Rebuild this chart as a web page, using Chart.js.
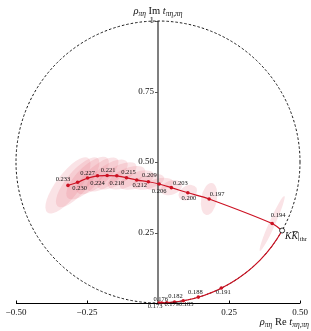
<!DOCTYPE html>
<html>
<head>
<meta charset="utf-8">
<script src="https://cdn.jsdelivr.net/npm/chart.js@4/dist/chart.umd.min.js"></script>
<style>
html, body { margin: 0; padding: 0; background: #fff; }
#wrap { width: 311px; height: 331px; }
</style>
</head>
<body>
<div id="wrap"><canvas id="chart"></canvas></div>
<script>
// elastic region: points sitting on the unitarity circle
const elasE  = ['0.173', '0.176', '0.179', '0.182', '0.185', '0.188', '0.191'];
const elasRe = [0.004, 0.013, 0.031, 0.058, 0.089, 0.142, 0.223];
const elasIm = [0.000, 0.000, 0.001, 0.003, 0.008, 0.021, 0.053];

// KKbar threshold
const kkRe = 0.437;
const kkIm = 0.257;

// inelastic region
const inelE  = ['0.194', '0.197', '0.200', '0.203', '0.206', '0.209', '0.212',
                '0.215', '0.218', '0.221', '0.224', '0.227', '0.230', '0.233'];
const inelRe = [0.402, 0.180, 0.105, 0.047, 0.004, -0.034, -0.075,
                -0.111, -0.145, -0.179, -0.213, -0.248, -0.283, -0.317];
const inelIm = [0.282, 0.369, 0.391, 0.409, 0.422, 0.430, 0.436,
                0.444, 0.451, 0.452, 0.451, 0.443, 0.428, 0.417];

// error ellipses (semi axes and tilt in degrees)
const errMajor = [0.106, 0.057, 0.035, 0.039, 0.050, 0.057, 0.064,
                  0.071, 0.078, 0.085, 0.092, 0.099, 0.110, 0.120];
const errMinor = [0.011, 0.028, 0.025, 0.025, 0.021, 0.025, 0.028,
                  0.032, 0.032, 0.035, 0.035, 0.039, 0.039, 0.042];
const errAngle = [66, 80, 30, 20, 10, 15, 20, 25, 30, 35, 40, 45, 50, 53];

const xTicks = [-0.5, -0.25, 0.25, 0.5];
const xTickLabels = ['\u22120.50', '\u22120.25', '0.25', '0.50'];
const yTicks = [0.25, 0.5, 0.75, 1];
const yTickLabels = ['0.25', '0.50', '0.75', '1'];

// where each energy label sits relative to its point (pixels)
const labelOffset = {
  '0.173': [-4, 3], '0.176': [-1, -4], '0.179': [5, 2], '0.182': [1, -6],
  '0.185': [3, 4], '0.188': [-3, -5], '0.191': [2, 4],
  '0.194': [6, -8], '0.197': [8, -5], '0.200': [1, 6], '0.203': [9, -4],
  '0.206': [0, 7], '0.209': [1, -6], '0.212': [3, 5], '0.215': [2, -5],
  '0.218': [0, 7], '0.221': [1, -5], '0.224': [0, 7], '0.227': [0, -5],
  '0.230': [2, 6], '0.233': [-5, -6]
};

const RED = '#cc1122';
const SERIF = '"Liberation Serif", "DejaVu Serif", serif';

// draws a run of text pieces (italic / subscript etc.)
function drawParts(ctx, parts, x, y, align) {
  let total = 0;
  parts.forEach(p => { ctx.font = p.f; p.w = ctx.measureText(p.t).width; total += p.w; });
  let cur = align === 'right' ? x - total : (align === 'center' ? x - total / 2 : x);
  parts.forEach(p => {
    ctx.font = p.f;
    ctx.fillText(p.t, cur, y + (p.dy || 0));
    if (p.bar) {
      ctx.beginPath();
      ctx.lineWidth = 0.7;
      ctx.moveTo(cur + 1, y - 7);
      ctx.lineTo(cur + p.w, y - 7);
      ctx.stroke();
    }
    cur += p.w;
  });
}

const argandPlugin = {
  id: 'argand',
  beforeDatasetsDraw(chart) {
    const { ctx, scales: { x, y } } = chart;
    const cx = x.getPixelForValue(0), cy = y.getPixelForValue(0.5);
    const rx = x.getPixelForValue(0.5) - cx, ry = y.getPixelForValue(0) - cy;
    const ux = x.getPixelForValue(1) - x.getPixelForValue(0);
    const uy = y.getPixelForValue(0) - y.getPixelForValue(1);
    ctx.save();

    // error ellipses
    ctx.fillStyle = 'rgba(230, 115, 128, 0.2)';
    inelRe.forEach((re, i) => {
      ctx.beginPath();
      ctx.ellipse(x.getPixelForValue(re), y.getPixelForValue(inelIm[i]),
        errMajor[i] * ux, errMinor[i] * uy, -errAngle[i] * Math.PI / 180, 0, Math.PI * 2);
      ctx.fill();
    });

    // axes
    const y0 = y.getPixelForValue(0), x0 = x.getPixelForValue(0);
    ctx.strokeStyle = '#000';
    ctx.lineWidth = 1;
    ctx.beginPath();
    ctx.moveTo(x.getPixelForValue(-0.5), y0 + 0.5);
    ctx.lineTo(x.getPixelForValue(0.5), y0 + 0.5);
    ctx.stroke();
    xTicks.forEach(v => {
      const px = Math.round(x.getPixelForValue(v)) + 0.5;
      ctx.beginPath();
      ctx.moveTo(px, y0 + 0.5);
      ctx.lineTo(px, y0 - 2.5);
      ctx.stroke();
    });
    ctx.strokeStyle = '#555';
    ctx.lineWidth = 1.5;
    ctx.beginPath();
    ctx.moveTo(x0, y0);
    ctx.lineTo(x0, y.getPixelForValue(1));
    ctx.stroke();
    ctx.lineWidth = 1;
    yTicks.forEach(v => {
      const py = Math.round(y.getPixelForValue(v)) + 0.5;
      ctx.beginPath();
      ctx.moveTo(x0, py);
      ctx.lineTo(x0 - 3, py);
      ctx.stroke();
    });

    // tick labels
    ctx.fillStyle = '#111';
    ctx.font = '9px ' + SERIF;
    ctx.textBaseline = 'middle';
    ctx.textAlign = 'center';
    xTicks.forEach((v, i) => ctx.fillText(xTickLabels[i], x.getPixelForValue(v), y0 + 10));
    ctx.textAlign = 'right';
    yTicks.forEach((v, i) => ctx.fillText(yTickLabels[i], x0 - 4, y.getPixelForValue(v)));

    // unitarity circle
    ctx.strokeStyle = '#000';
    ctx.lineWidth = 0.9;
    ctx.setLineDash([2.5, 2]);
    ctx.beginPath();
    ctx.ellipse(cx, cy, rx, ry, 0, 0, Math.PI * 2);
    ctx.stroke();
    ctx.setLineDash([]);

    // elastic part of the curve follows the circle up to the KK threshold
    const kx = x.getPixelForValue(kkRe), ky = y.getPixelForValue(kkIm);
    const t0 = Math.atan2((ky - cy) / ry, (kx - cx) / rx);
    ctx.strokeStyle = RED;
    ctx.lineWidth = 1.2;
    ctx.beginPath();
    ctx.ellipse(cx, cy, rx, ry, 0, t0, Math.PI / 2);
    ctx.stroke();
    ctx.restore();
  },
  afterDatasetsDraw(chart) {
    const { ctx, scales: { x, y } } = chart;
    ctx.save();
    ctx.fillStyle = '#111';
    ctx.strokeStyle = '#111';
    ctx.textBaseline = 'middle';
    ctx.textAlign = 'center';
    ctx.font = '6.5px ' + SERIF;
    const put = (lab, re, im) => {
      const o = labelOffset[lab];
      ctx.fillText(lab, x.getPixelForValue(re) + o[0], y.getPixelForValue(im) + o[1]);
    };
    elasE.forEach((lab, i) => put(lab, elasRe[i], elasIm[i]));
    inelE.forEach((lab, i) => put(lab, inelRe[i], inelIm[i]));

    ctx.textAlign = 'left';
    ctx.textBaseline = 'alphabetic';
    const it = 'italic 10.5px ' + SERIF, rm = '10.5px ' + SERIF;
    const sub = 'italic 7.5px ' + SERIF;
    // KKbar threshold label
    drawParts(ctx, [
      { t: 'K', f: 'italic 9.5px ' + SERIF },
      { t: 'K', f: 'italic 9.5px ' + SERIF, bar: true },
      { t: '|', f: '9.5px ' + SERIF },
      { t: 'thr', f: '6.5px ' + SERIF, dy: 2 }
    ], x.getPixelForValue(kkRe) + 3, y.getPixelForValue(kkIm) + 8, 'left');

    // axis titles
    const title = [
      { t: '\u03c1', f: it }, { t: '\u03c0\u03b7', f: sub, dy: 2 },
      { t: ' Im ', f: rm }, { t: 't', f: it }, { t: '\u03c0\u03b7,\u03c0\u03b7', f: sub, dy: 2 }
    ];
    drawParts(ctx, title, x.getPixelForValue(0), 14, 'center');
    const titleX = [
      { t: '\u03c1', f: it }, { t: '\u03c0\u03b7', f: sub, dy: 2 },
      { t: ' Re ', f: rm }, { t: 't', f: it }, { t: '\u03c0\u03b7,\u03c0\u03b7', f: sub, dy: 2 }
    ];
    drawParts(ctx, titleX, 309, 325, 'right');
    ctx.restore();
  }
};

const elasPoints = elasRe.map((re, i) => ({ x: re, y: elasIm[i] }));
const inelPoints = [{ x: kkRe, y: kkIm }].concat(inelRe.map((re, i) => ({ x: re, y: inelIm[i] })));

new Chart(document.getElementById('chart'), {
  type: 'scatter',
  data: {
    datasets: [
      {
        label: 'KK threshold',
        data: [{ x: kkRe, y: kkIm }],
        pointRadius: 2.5,
        pointBackgroundColor: '#fff',
        pointBorderColor: '#000',
        pointBorderWidth: 0.8,
        order: 0
      },
      {
        label: 'inelastic',
        data: inelPoints,
        showLine: true,
        borderColor: RED,
        borderWidth: 1.2,
        tension: 0.3,
        pointRadius: ctx => ctx.dataIndex === 0 ? 0 : 1.8,
        pointBackgroundColor: RED,
        pointBorderWidth: 0,
        order: 1
      },
      {
        label: 'elastic',
        data: elasPoints,
        pointRadius: 1.8,
        pointBackgroundColor: RED,
        pointBorderWidth: 0,
        order: 1
      }
    ]
  },
  options: {
    responsive: true,
    maintainAspectRatio: false,
    animation: false,
    layout: { padding: { left: 16, right: 11, top: 21, bottom: 28 } },
    plugins: { legend: { display: false }, tooltip: { enabled: false } },
    scales: {
      x: { type: 'linear', min: -0.5, max: 0.5, display: false },
      y: { type: 'linear', min: 0, max: 1, display: false }
    }
  },
  plugins: [argandPlugin]
});
</script>
</body>
</html>
